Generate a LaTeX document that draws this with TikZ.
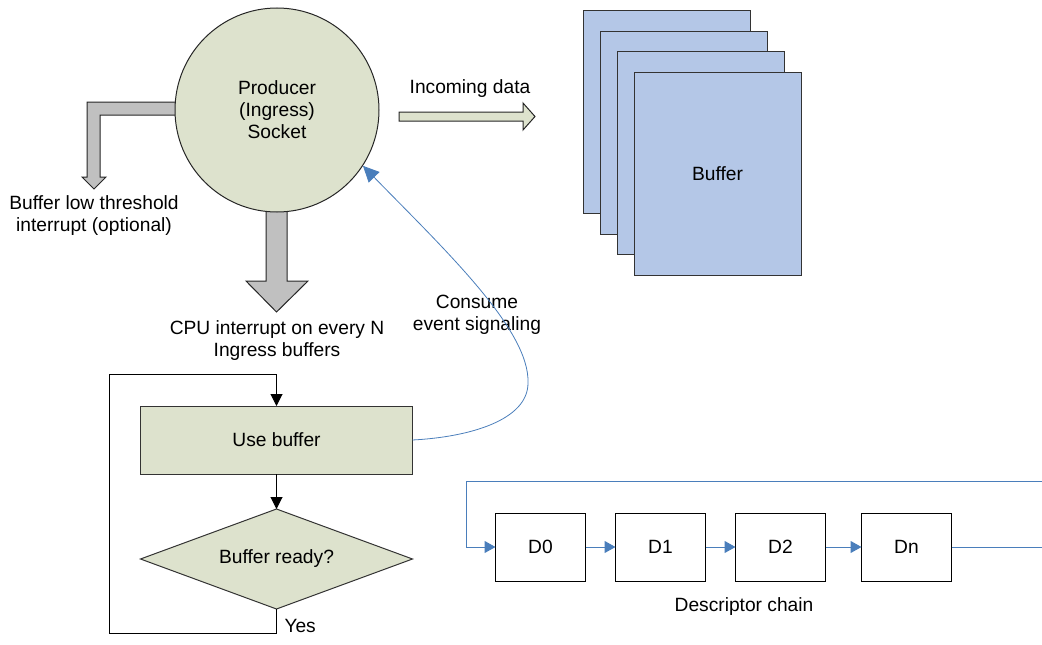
\documentclass[tikz,border=0pt]{standalone}
\usepackage{fontspec}
\setmainfont{Liberation Sans}
\usetikzlibrary{arrows.meta, positioning, shapes.geometric}
\definecolor{olivo}{RGB}{221,226,205}
\definecolor{gris}{RGB}{192,192,192}
\definecolor{azulbuf}{RGB}{180,199,231}
\definecolor{azul}{RGB}{74,126,187}

\begin{document}
\begin{tikzpicture}[
  x=1pt, y=-1pt,
  font=\fontsize{19.2}{22}\selectfont,
  line width=1pt,
  texto/.style={align=center, inner sep=0pt},
  gruesa/.style={draw=black!85, fill=gris, line width=1pt, line join=miter},
  hoja/.style={draw=black!80, fill=azulbuf, minimum width=167pt,
               minimum height=203pt, inner sep=0pt, outer sep=0pt},
  proceso/.style={draw=black!80, fill=olivo, minimum width=272pt,
                  minimum height=68pt, outer sep=0pt},
  decision/.style={diamond, draw=black!80, fill=olivo, minimum width=272pt,
                   minimum height=100pt, aspect=2.72, inner sep=0pt, outer sep=0pt},
  desc/.style={draw, minimum width=90pt, minimum height=68pt, outer sep=0pt},
  flecha/.style={-{Triangle[length=12pt, width=12pt]}, line width=1pt},
  enlace/.style={azul, line width=1pt, -{Triangle[length=11pt, width=12pt]}},
  senal/.style={azul, line width=0.8pt, -{Triangle[length=16pt, width=15pt]}}
]
\useasboundingbox (0,0) rectangle (1042,645);

% flechas gruesas
\draw[gruesa] (185,102) -- (87,102) -- (87,177) -- (82,177) -- (94,189)
  -- (106,177) -- (100,177) -- (100,115) -- (185,115) -- cycle;
\draw[gruesa] (266,195) -- (266,281) -- (246,281) -- (276.5,312)
  -- (308,281) -- (287,281) -- (287,195) -- cycle;
\draw[gruesa, fill=olivo] (399,112) -- (523,112) -- (523,103) -- (535,116.5)
  -- (523,130) -- (523,121) -- (399,121) -- cycle;

\node[circle, draw=black!85, fill=olivo, minimum size=204pt, texto] (prod)
  at (277,110) {Producer\\(Ingress)\\Socket};

% pila de buffers
\foreach \i in {0,...,3}
  \node[hoja] (hoja\i) at (666.5+17*\i, 112+20.7*\i) {};
\node (buftxt) at (hoja3.center) {Buffer};

\node[texto] (umbral) at (94,216) {Buffer low threshold\\interrupt (optional)};
\node[texto] (cpu) at (277,341) {CPU interrupt on every N\\Ingress buffers};
\node[texto] (entrante) at (470,89) {Incoming data};
\node[texto] (consumo) at (477,315) {Consume\\event signaling};

% diagrama de flujo
\node[proceso] (usar) at (276.5,440) {Use buffer};
\node[decision, below=35pt of usar] (listo) {Buffer ready?};
\draw[flecha] (usar) -- (listo);
\coordinate (retorno) at (109,374);
\draw[flecha] (listo.south) -- ++(0,24) -| (retorno) -| (usar.north);
\node[texto, anchor=west] (si) at (284,626) {Yes};

\draw[senal] (usar.east) .. controls (470,437) and (528,420) .. (528,383)
  .. controls (530,330) and (445,250) .. (prod.-33);

% cadena de descriptores
\node[desc] (d0) at (540.5,547) {D0};
\node[desc, right=30pt of d0] (d1) {D1};
\node[desc, right=30pt of d1] (d2) {D2};
\node[desc, right=36pt of d2] (dn) {Dn};
\draw[enlace] (d0) -- (d1);
\draw[enlace] (d1) -- (d2);
\draw[enlace] (d2) -- (dn);
\coordinate (vueltaR) at (1050,547);
\coordinate (vueltaT) at (466,481);
\draw[enlace] (dn.east) -- (vueltaR) |- (vueltaT) |- (d0.west);
\node[texto] (cadena) at (744,607) {Descriptor chain};
\end{tikzpicture}
\end{document}
